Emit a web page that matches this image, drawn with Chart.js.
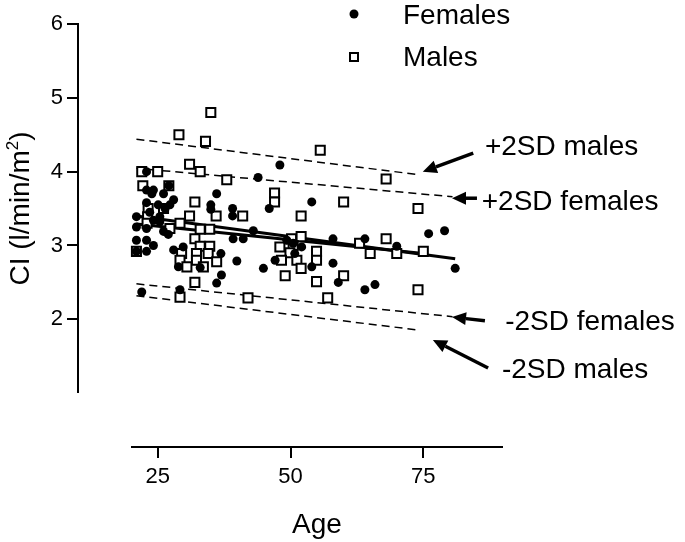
<!DOCTYPE html>
<html>
<head>
<meta charset="utf-8">
<script src="https://cdn.jsdelivr.net/npm/chart.js@4.4.0/dist/chart.umd.min.js"></script>
<style>
  html, body { margin: 0; padding: 0; background: #fff; }
  #wrap { width: 685px; height: 542px; }
</style>
</head>
<body>
<div id="wrap"><canvas id="ciChart"></canvas></div>
<script>
// scatter values (age, CI)
const femaleAge = [22.9, 48, 43.9, 36.1, 54, 35, 35, 39.1, 39.1, 46, 43, 22.9, 24.2, 26.1, 28, 27.3, 25.1, 21, 25.4, 21,
  22.9, 24.2, 25.4, 26.1, 21, 22.9, 24.2, 21, 22.9, 39.2, 41.1, 49.3, 50.5, 52.1, 54, 47.1, 44.9, 39.9, 36.9, 33,
  29.8, 28, 28.9, 37, 36.1, 22, 29.2, 50.8, 58, 64, 70, 58, 59, 64, 65.9, 76, 79, 81, 23.9, 22.9, 26.4, 27.1, 27, 23.5];
const femaleCI = [4.00, 4.09, 3.92, 3.70, 3.59, 3.55, 3.49, 3.50, 3.40, 3.50, 3.20, 3.75, 3.75, 3.70, 3.62, 3.55, 3.55, 3.39, 3.39, 3.25,
  3.23, 3.34, 3.32, 3.19, 3.07, 3.07, 3.00, 2.92, 2.92, 3.09, 3.09, 3.07, 3.03, 2.98, 2.71, 2.80, 2.69, 2.79, 2.89, 2.70,
  2.98, 2.94, 2.71, 2.60, 2.49, 2.37, 2.40, 2.89, 3.09, 3.09, 2.99, 2.76, 2.50, 2.40, 2.47, 3.16, 3.20, 2.69, 3.70, 3.58, 3.50, 3.81, 3.15, 3.45];

const maleAge = [35, 29, 34, 55.6, 31, 22, 25, 33, 38, 68, 22.2, 27.1, 47, 47, 32, 60, 74, 23.2, 26.1, 23.1,
  31, 36, 41, 52, 23, 29.2, 27.3, 33, 34.8, 32, 50.2, 52, 68, 63, 33, 34.8, 48, 50.5, 29.5, 32.3,
  34.5, 49.9, 54.9, 65, 70, 75, 29.2, 32.3, 36.1, 48.3, 51.2, 54.9, 30.5, 33.6, 52, 49, 60, 32, 54.9, 74, 29.2, 42, 57, 21];
const maleCI = [4.80, 4.50, 4.41, 4.29, 4.10, 4.00, 4.00, 4.00, 3.89, 3.90, 3.81, 3.81, 3.71, 3.59, 3.59, 3.59, 3.50, 3.50, 3.50, 3.39,
  3.40, 3.40, 3.40, 3.40, 3.30, 3.30, 3.23, 3.22, 3.22, 3.09, 3.09, 3.12, 3.09, 3.03, 2.99, 2.99, 2.98, 3.00, 2.89, 2.89,
  2.89, 2.90, 2.92, 2.89, 2.89, 2.92, 2.80, 2.80, 2.78, 2.80, 2.80, 2.80, 2.71, 2.71, 2.69, 2.59, 2.59, 2.50, 2.51, 2.40, 2.30, 2.29, 2.29, 2.92];

// regression and +/-2SD lines (end points)
const femaleFitAge = [21, 81];    const femaleFitCI = [3.40, 2.82];
const maleFitAge = [21, 75];      const maleFitCI = [3.29, 2.89];
const femaleHiAge = [21, 80.5];   const femaleHiCI = [4.045, 3.66];
const femaleLoAge = [21, 80.5];   const femaleLoCI = [2.48, 2.035];
const maleHiAge = [21, 74];       const maleHiCI = [4.44, 3.96];
const maleLoAge = [21, 74];       const maleLoCI = [2.32, 1.855];

// axes
const xTicks = [25, 50, 75];
const yTicks = [2, 3, 4, 5, 6];
const xAxisFrom = 20, xAxisTo = 90;
const yAxisFrom = 1, yAxisTo = 6;

// annotations (in data units)
const noteText = ['+2SD males', '+2SD females', '-2SD females', '-2SD males'];
const noteAge = [86.6, 86.0, 90.4, 89.8];
const noteCI = [4.225, 3.48, 1.855, 1.205];
const arrowFromAge = [84.4, 85.1, 86.6, 87.2];
const arrowFromCI = [4.25, 3.64, 1.98, 1.34];
const arrowToAge = [74.9, 80.4, 80.4, 76.8];
const arrowToCI = [4.0, 3.64, 2.03, 1.72];

const FONT = "'Liberation Sans', Arial, sans-serif";
const TICK_LEN = 11;

function toPoints(xs, ys) {
  return xs.map((x, i) => ({ x: x, y: ys[i] }));
}

function lineSet(label, xs, ys, dashed, order) {
  return {
    label: label,
    data: toPoints(xs, ys),
    showLine: true,
    borderColor: '#000',
    borderWidth: dashed ? 1.5 : 3,
    borderDash: dashed ? [8, 5] : [],
    pointRadius: 0,
    fill: false,
    order: order
  };
}

function drawArrow(ctx, x1, y1, x2, y2) {
  const ang = Math.atan2(y2 - y1, x2 - x1);
  const headLen = 14, headW = 6.5;
  const bx = x2 - Math.cos(ang) * headLen, by = y2 - Math.sin(ang) * headLen;
  ctx.beginPath();
  ctx.moveTo(x1, y1);
  ctx.lineTo(bx, by);
  ctx.lineWidth = 3.5;
  ctx.stroke();
  ctx.beginPath();
  ctx.moveTo(x2, y2);
  ctx.lineTo(bx + Math.sin(ang) * headW, by - Math.cos(ang) * headW);
  ctx.lineTo(bx - Math.sin(ang) * headW, by + Math.cos(ang) * headW);
  ctx.closePath();
  ctx.fill();
}

// Prism-style offset axes, titles, legend and arrow notes
const decorPlugin = {
  id: 'decor',
  afterDraw(chart) {
    const { ctx, chartArea } = chart;
    const x = chart.scales.x, y = chart.scales.y;
    ctx.save();
    ctx.setLineDash([]);
    ctx.strokeStyle = '#000';
    ctx.fillStyle = '#000';

    const left = Math.round(chartArea.left), bottom = Math.round(chartArea.bottom);
    const yTop = Math.round(y.getPixelForValue(yAxisTo)), yBot = Math.round(y.getPixelForValue(yAxisFrom));
    const xL = Math.round(x.getPixelForValue(xAxisFrom)), xR = Math.round(x.getPixelForValue(xAxisTo));
    ctx.fillRect(left - 1, yTop - 1, 2, yBot - yTop + 1);
    ctx.fillRect(xL, bottom - 1, xR - xL, 2);
    yTicks.forEach(v => {
      const py = Math.round(y.getPixelForValue(v));
      ctx.fillRect(left - TICK_LEN, py - 1, TICK_LEN, 2);
    });
    xTicks.forEach(v => {
      const px = Math.round(x.getPixelForValue(v));
      ctx.fillRect(px - 1, bottom, 2, TICK_LEN);
    });

    // axis titles
    ctx.font = '28px ' + FONT;
    ctx.textAlign = 'center';
    ctx.textBaseline = 'alphabetic';
    ctx.fillText('Age', (xL + xR) / 2, 533);

    ctx.save();
    ctx.translate(28.5, (yTop + yBot) / 2);
    ctx.rotate(-Math.PI / 2);
    ctx.textAlign = 'left';
    const partA = 'CI (l/min/m', partB = '2', partC = ')';
    ctx.font = '28px ' + FONT;
    const wA = ctx.measureText(partA).width, wC = ctx.measureText(partC).width;
    ctx.font = '17px ' + FONT;
    const wB = ctx.measureText(partB).width;
    let cx = -(wA + wB + wC) / 2;
    ctx.font = '28px ' + FONT;
    ctx.fillText(partA, cx, 0);
    cx += wA;
    ctx.font = '17px ' + FONT;
    ctx.fillText(partB, cx, -11);
    cx += wB;
    ctx.font = '28px ' + FONT;
    ctx.fillText(partC, cx, 0);
    ctx.restore();

    // legend
    ctx.beginPath();
    ctx.arc(354, 14, 4.5, 0, Math.PI * 2);
    ctx.fill();
    ctx.lineWidth = 2;
    ctx.fillStyle = '#fff';
    ctx.fillRect(350, 53, 8, 8);
    ctx.strokeRect(350, 53, 8, 8);
    ctx.fillStyle = '#000';
    ctx.textAlign = 'left';
    ctx.font = '28px ' + FONT;
    ctx.fillText('Females', 403, 24);
    ctx.fillText('Males', 403, 66);

    // annotations with arrows
    noteText.forEach((t, i) => {
      ctx.fillText(t, x.getPixelForValue(noteAge[i]), y.getPixelForValue(noteCI[i]));
      drawArrow(ctx,
        x.getPixelForValue(arrowFromAge[i]), y.getPixelForValue(arrowFromCI[i]),
        x.getPixelForValue(arrowToAge[i]), y.getPixelForValue(arrowToCI[i]));
    });
    ctx.restore();
  }
};

new Chart(document.getElementById('ciChart'), {
  type: 'scatter',
  data: {
    datasets: [
      {
        label: 'Females',
        data: toPoints(femaleAge, femaleCI),
        pointStyle: 'circle',
        pointRadius: 4.5,
        backgroundColor: '#000',
        borderColor: '#000',
        borderWidth: 0,
        order: 1
      },
      {
        label: 'Males',
        data: toPoints(maleAge, maleCI),
        pointStyle: 'rect',
        pointRadius: 6.4,
        backgroundColor: '#fff',
        borderColor: '#000',
        borderWidth: 2,
        order: 2
      },
      lineSet('Females fit', femaleFitAge, femaleFitCI, false, 3),
      lineSet('Males fit', maleFitAge, maleFitCI, false, 3),
      lineSet('+2SD females', femaleHiAge, femaleHiCI, true, 4),
      lineSet('-2SD females', femaleLoAge, femaleLoCI, true, 4),
      lineSet('+2SD males', maleHiAge, maleHiCI, true, 4),
      lineSet('-2SD males', maleLoAge, maleLoCI, true, 4)
    ]
  },
  options: {
    responsive: true,
    maintainAspectRatio: false,
    animation: false,
    layout: { padding: { top: 24, right: 182, left: 0, bottom: 0 } },
    plugins: { legend: { display: false }, tooltip: { enabled: false } },
    scales: {
      x: {
        type: 'linear',
        min: 10,
        max: 90,
        afterFit: s => { s.height = 95; },
        afterBuildTicks: s => { s.ticks = xTicks.map(v => ({ value: v })); },
        grid: { drawOnChartArea: false, drawTicks: true, tickLength: TICK_LEN, color: 'rgba(0,0,0,0)' },
        border: { display: false },
        ticks: { color: '#000', font: { family: FONT, size: 22 }, padding: 6, maxRotation: 0 }
      },
      y: {
        type: 'linear',
        min: 0.27,
        max: 6,
        afterFit: s => { s.width = 78; },
        afterBuildTicks: s => { s.ticks = yTicks.map(v => ({ value: v })); },
        grid: { drawOnChartArea: false, drawTicks: true, tickLength: TICK_LEN, color: 'rgba(0,0,0,0)' },
        border: { display: false },
        ticks: { color: '#000', font: { family: FONT, size: 22 }, padding: 4 }
      }
    }
  },
  plugins: [decorPlugin]
});
</script>
</body>
</html>
